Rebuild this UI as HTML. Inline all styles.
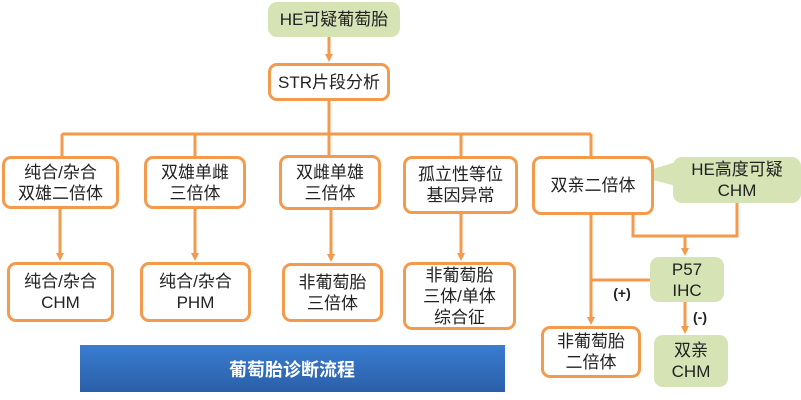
<!DOCTYPE html>
<html><head><meta charset="utf-8"><style>
body{margin:0;width:801px;height:400px;background:#fff;position:relative;overflow:hidden;font-family:"Liberation Sans","Noto Sans CJK SC",sans-serif;color:#222}
.b{position:absolute;box-sizing:border-box;border:3px solid #f39a4c;border-radius:9px;background:#fff;display:flex;align-items:center;justify-content:center;text-align:center;font-size:17px;line-height:21px}
.g{position:absolute;box-sizing:border-box;background:#d5e3b5;border-radius:9px;display:flex;align-items:center;justify-content:center;text-align:center;font-size:17px;line-height:21px}
svg{position:absolute;left:0;top:0}
</style></head><body>
<svg width="801" height="400">
<defs><marker id="a" markerWidth="8" markerHeight="8" refX="4" refY="4" orient="auto" markerUnits="userSpaceOnUse"><path d="M0,0 L8,4 L0,8 z" fill="#f39a4c"/></marker></defs>
<g stroke="#f39a4c" stroke-width="3" fill="none">
<line x1="329" y1="37" x2="329" y2="58" marker-end="url(#a)"/>
<line x1="329" y1="101" x2="329" y2="134"/>
<line x1="62" y1="134" x2="591" y2="134"/>
<line x1="62" y1="134" x2="62" y2="156"/>
<line x1="195" y1="134" x2="195" y2="156"/>
<line x1="329" y1="134" x2="329" y2="155"/>
<line x1="461" y1="134" x2="461" y2="156"/>
<line x1="591" y1="134" x2="591" y2="156"/>
<line x1="60" y1="209" x2="60" y2="257" marker-end="url(#a)"/>
<line x1="195" y1="209" x2="195" y2="257" marker-end="url(#a)"/>
<line x1="331" y1="210" x2="331" y2="258" marker-end="url(#a)"/>
<line x1="461" y1="214" x2="461" y2="257" marker-end="url(#a)"/>
<line x1="591" y1="215" x2="591" y2="321" marker-end="url(#a)"/>
<line x1="591" y1="280" x2="650" y2="280"/>
<polyline points="633,215 633,236 737,236 737,203"/>
<line x1="685" y1="236" x2="685" y2="252" marker-end="url(#a)"/>
<line x1="685" y1="302" x2="685" y2="330" marker-end="url(#a)"/>
</g>
<defs><linearGradient id="bl" x1="0" y1="0" x2="0" y2="1"><stop offset="0" stop-color="#3a7dd0"/><stop offset="1" stop-color="#2a5fa8"/></linearGradient></defs>
<rect x="80" y="345" width="425" height="47" fill="url(#bl)"/>
<text x="292" y="376" text-anchor="middle" fill="#fff" font-size="18" font-weight="bold" font-family="Liberation Sans,Noto Sans CJK SC,sans-serif">葡萄胎诊断流程</text>
<path d="M633,175 L676,162 L676,186 z" fill="#d5e3b5"/>
<text x="622" y="298" text-anchor="middle" font-size="14" font-weight="bold" fill="#222">(+)</text>
<text x="700" y="322" text-anchor="middle" font-size="14" font-weight="bold" fill="#222">(-)</text>
</svg>
<div class="g" style="left:268px;top:2px;width:132px;height:35px">HE可疑葡萄胎</div>
<div class="b" style="left:268px;top:63px;width:122px;height:38px">STR片段分析</div>
<div class="b" style="left:2px;top:156px;width:117px;height:53px">纯合/杂合<br>双雄二倍体</div>
<div class="b" style="left:144px;top:156px;width:102px;height:53px">双雄单雌<br>三倍体</div>
<div class="b" style="left:279px;top:155px;width:102px;height:55px">双雌单雄<br>三倍体</div>
<div class="b" style="left:403px;top:156px;width:115px;height:58px">孤立性等位<br>基因异常</div>
<div class="b" style="left:532px;top:156px;width:122px;height:59px">双亲二倍体</div>
<div class="g" style="left:673px;top:157px;width:128px;height:46px">HE高度可疑<br>CHM</div>
<div class="b" style="left:7px;top:262px;width:107px;height:60px">纯合/杂合<br>CHM</div>
<div class="b" style="left:140px;top:262px;width:111px;height:60px">纯合/杂合<br>PHM</div>
<div class="b" style="left:282px;top:263px;width:101px;height:59px">非葡萄胎<br>三倍体</div>
<div class="b" style="left:403px;top:262px;width:113px;height:68px">非葡萄胎<br>三体/单体<br>综合征</div>
<div class="g" style="left:650px;top:257px;width:74px;height:45px">P57<br>IHC</div>
<div class="b" style="left:541px;top:326px;width:100px;height:52px">非葡萄胎<br>二倍体</div>
<div class="g" style="left:654px;top:335px;width:74px;height:52px">双亲<br>CHM</div>
</body></html>
